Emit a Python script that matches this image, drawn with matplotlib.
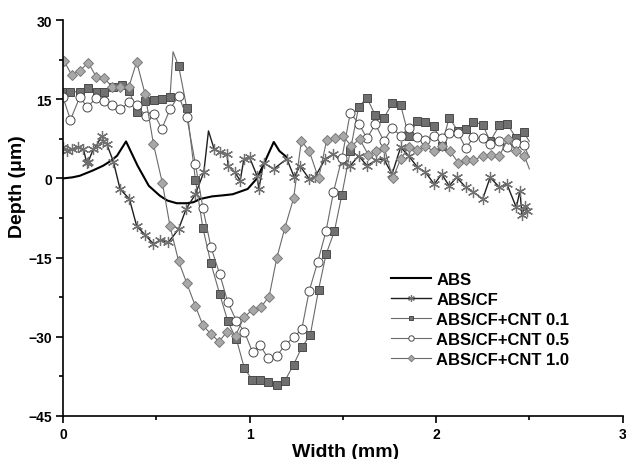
import matplotlib
matplotlib.use("Agg")
import matplotlib.pyplot as plt
from matplotlib.ticker import MultipleLocator

plt.rcParams['font.family'] = ['Liberation Sans', 'DejaVu Sans']
plt.rcParams['font.weight'] = 'bold'

# ABS - plain black trace
abs_x = [0, 0.05, 0.09, 0.16, 0.215, 0.26, 0.29, 0.338, 0.40, 0.46, 0.52, 0.56, 0.61,
         0.665, 0.70, 0.735, 0.80, 0.86, 0.91, 0.99, 1.04, 1.08, 1.13, 1.16, 1.2]
abs_y = [0, 0.2, 0.5, 1.5, 2.4, 3.4, 4.3, 7.0, 2.4, -1.4, -3.3, -4.2, -4.7,
         -4.7, -4.5, -3.9, -3.4, -3.2, -3.0, -2.0, 0.0, 3.0, 6.9, 5.2, 4.0]

# ABS/CF
cf_x = [0, 0.02, 0.05, 0.08, 0.11, 0.127, 0.136, 0.163, 0.18, 0.207, 0.217, 0.235, 0.27,
        0.306, 0.356, 0.395, 0.44, 0.485, 0.52, 0.565, 0.62, 0.66, 0.71, 0.755, 0.78,
        0.81, 0.84, 0.88, 0.885, 0.92, 0.95, 0.97, 1.0, 1.04, 1.05, 1.075, 1.13, 1.2,
        1.24, 1.27, 1.32, 1.35, 1.406, 1.45, 1.50, 1.54, 1.585, 1.63, 1.68, 1.72, 1.764,
        1.81, 1.853, 1.9, 1.943, 1.99, 2.03, 2.07, 2.11, 2.16, 2.2, 2.25, 2.29, 2.34,
        2.38, 2.43, 2.45, 2.46, 2.475, 2.49]
cf_y = [5.9, 5.2, 5.6, 5.9, 5.5, 3.0, 3.2, 5.6, 6.2, 8.1, 7.1, 6.5, 3.2,
        -2.0, -3.9, -9.0, -10.7, -12.4, -11.7, -12.1, -9.6, -5.8, -3.0, 1.2, 9.0,
        5.6, 5.0, 4.6, 2.4, 1.2, -0.4, 3.7, 4.0, 0.5, -2.0, 3.0, 1.8, 3.7,
        0.2, 2.4, -0.1, 0.2, 3.7, 4.6, 3.0, 2.4, 4.3, 2.4, 3.5, 3.7, 0.8,
        5.9, 4.3, 2.1, 1.2, -1.1, 0.8, -1.4, 0.2, -1.7, -2.6, -3.9, 0.2, -1.7,
        -1.1, -5.5, -2.3, -7.0, -5.2, -6.1]
cf_plain = [0.78]

# ABS/CF+CNT 0.1
c01_x = [0.01, 0.04, 0.09, 0.136, 0.18, 0.22, 0.27, 0.315, 0.356, 0.395, 0.44, 0.488,
         0.533, 0.574, 0.59, 0.62, 0.664, 0.71, 0.75, 0.793, 0.84, 0.884, 0.93, 0.972,
         1.013, 1.057, 1.10, 1.146, 1.19, 1.236, 1.28, 1.326, 1.37, 1.41, 1.455, 1.495,
         1.54, 1.585, 1.63, 1.674, 1.72, 1.764, 1.81, 1.853, 1.9, 1.943, 1.99, 2.03,
         2.07, 2.117, 2.16, 2.2, 2.25, 2.29, 2.34, 2.38, 2.43, 2.47, 2.5]
c01_y = [16.4, 16.4, 16.4, 17.1, 16.4, 16.3, 17.4, 17.6, 16.6, 12.5, 14.7, 14.8,
         15.0, 15.5, 24.0, 21.3, 13.3, -0.3, -9.4, -16.1, -21.9, -27.1, -30.5, -35.9,
         -38.1, -38.1, -38.6, -39.1, -38.3, -35.3, -32.0, -29.6, -21.1, -14.4, -10.0, -3.1,
         5.2, 13.6, 15.2, 12.0, 11.4, 14.2, 13.9, 8.1, 10.9, 10.6, 10.0, 6.1,
         11.5, 9.0, 9.4, 10.7, 10.2, 7.0, 10.1, 10.4, 7.6, 8.7, 7.0]
c01_plain = [0.59, 2.5]

# ABS/CF+CNT 0.5
c05_x = [0, 0.04, 0.09, 0.13, 0.177, 0.22, 0.265, 0.307, 0.354, 0.395, 0.444, 0.488,
         0.53, 0.574, 0.62, 0.664, 0.71, 0.75, 0.793, 0.84, 0.884, 0.93, 0.972, 1.016,
         1.057, 1.10, 1.146, 1.19, 1.236, 1.28, 1.32, 1.365, 1.41, 1.45, 1.495, 1.54,
         1.585, 1.63, 1.674, 1.72, 1.764, 1.81, 1.853, 1.9, 1.943, 1.99, 2.03, 2.07,
         2.117, 2.16, 2.2, 2.25, 2.29, 2.34, 2.38, 2.43, 2.47, 2.5]
c05_y = [15.4, 11.1, 15.4, 13.5, 15.2, 14.7, 13.9, 13.1, 14.4, 13.9, 11.8, 12.2,
         9.4, 13.1, 15.7, 11.6, 2.7, -5.6, -13.0, -18.1, -23.5, -27.0, -29.0, -32.9,
         -31.6, -34.1, -33.6, -31.6, -30.1, -28.6, -21.3, -15.9, -10.0, -2.6, 3.8, 12.4,
         10.4, 7.6, 10.3, 7.1, 9.5, 8.1, 9.5, 7.8, 7.3, 8.0, 7.6, 8.6,
         8.6, 5.7, 7.8, 7.6, 6.5, 7.0, 5.9, 6.8, 6.3, 4.0]
c05_plain = [2.5]

# ABS/CF+CNT 1.0
c10_x = [0.007, 0.046, 0.09, 0.136, 0.177, 0.22, 0.265, 0.307, 0.354, 0.395, 0.44, 0.485,
         0.533, 0.574, 0.62, 0.664, 0.71, 0.75, 0.793, 0.837, 0.88, 0.925, 0.97, 1.016,
         1.06, 1.105, 1.146, 1.19, 1.236, 1.278, 1.32, 1.37, 1.414, 1.46, 1.50, 1.546,
         1.59, 1.636, 1.68, 1.723, 1.768, 1.81, 1.853, 1.9, 1.943, 1.99, 2.03, 2.077,
         2.12, 2.16, 2.2, 2.25, 2.296, 2.34, 2.385, 2.43, 2.474, 2.5]
c10_y = [22.2, 19.6, 20.4, 21.9, 19.3, 19.0, 17.3, 17.4, 17.4, 22.1, 16.0, 6.5,
         -0.9, -9.1, -15.7, -19.9, -24.2, -27.8, -29.5, -30.9, -29.0, -29.8, -26.3, -24.9,
         -24.4, -22.4, -15.1, -9.3, -3.8, 7.1, 5.2, 0.0, 7.3, 7.6, 8.1, 6.1,
         7.5, 4.5, 5.1, 5.7, 0.0, 3.7, 5.9, 5.4, 6.1, 5.1, 6.1, 5.1,
         2.9, 3.5, 3.5, 4.2, 4.4, 4.3, 7.5, 5.1, 4.2, 1.8]
c10_plain = [2.5]


def marks(xs, plain):
    return [i for i, v in enumerate(xs) if v not in plain]


fig = plt.figure(figsize=(6.26, 4.6), dpi=100)
ax = fig.add_axes([0.1006, 0.0935, 0.894, 0.8608])

line_grey = '#6a6a6a'
ax.plot(abs_x, abs_y, color='black', lw=1.5, label='ABS')
ax.plot(cf_x, cf_y, color='#1e1e1e', lw=1.0, marker=(6, 2, 0), ms=8,
        mec='#707070', mew=0.9, markevery=marks(cf_x, cf_plain), label='ABS/CF')
ax.plot(c01_x, c01_y, color=line_grey, lw=0.8, marker='s', ms=6, mfc='#707070',
        mec='#4a4a4a', mew=0.7, markevery=marks(c01_x, c01_plain), label='ABS/CF+CNT 0.1')
ax.plot(c05_x, c05_y, color=line_grey, lw=0.8, marker='o', ms=6.5, mfc='white',
        mec='#4a4a4a', mew=0.7, markevery=marks(c05_x, c05_plain), label='ABS/CF+CNT 0.5')
ax.plot(c10_x, c10_y, color=line_grey, lw=0.8, marker='D', ms=5.5, mfc='#a8a8a8',
        mec='#7a7a7a', mew=0.7, markevery=marks(c10_x, c10_plain), label='ABS/CF+CNT 1.0')

ax.set_xlim(0, 3)
ax.set_ylim(-45, 30)
ax.xaxis.set_major_locator(MultipleLocator(1))
ax.xaxis.set_minor_locator(MultipleLocator(0.5))
ax.yaxis.set_major_locator(MultipleLocator(15))
ax.yaxis.set_minor_locator(MultipleLocator(7.5))
ax.spines['top'].set_visible(False)
ax.spines['right'].set_visible(False)
for s in ('left', 'bottom'):
    ax.spines[s].set_linewidth(1.2)
ax.tick_params(which='major', direction='out', length=5, width=1.2, labelsize=10, pad=3)
ax.tick_params(which='minor', direction='out', length=3, width=1.2)

ax.set_xlabel('Width (mm)', fontsize=14, fontweight='bold')
ax.set_ylabel('Depth (\u03bcm)', fontsize=14, fontweight='bold')
ax.xaxis.set_label_coords(0.505, -0.068)
ax.yaxis.set_label_coords(-0.066, 0.583)

leg = ax.legend(loc='upper left', bbox_to_anchor=(0.612, 0.425), bbox_transform=fig.transFigure,
                frameon=False, fontsize=12, handlelength=2.4, handletextpad=0.3,
                labelspacing=0.3, borderpad=0, markerscale=0.6)

fig.savefig('out.png', dpi=100)
